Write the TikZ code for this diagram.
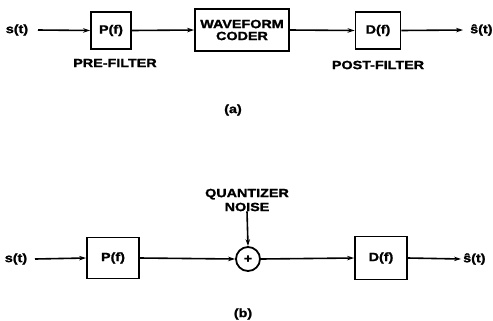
\documentclass[tikz,border=0pt]{standalone}
\usepackage{fontspec}
\setmainfont{Liberation Sans}
\newfontfamily\labfont[FakeStretch=1.2,FakeBold=1.5]{Liberation Sans Bold}
\usetikzlibrary{arrows.meta}
\begin{document}
\begin{tikzpicture}[x=1bp,y=-1bp,
  every node/.style={font=\labfont\fontsize{12}{13}\selectfont, inner sep=0pt},
  blockbox/.style={draw, line width=1.8bp, minimum width=#1, anchor=center},
  sig/.style={line width=1.6bp, -{Stealth[length=7bp,width=4.5bp]}},
  plain/.style={line width=1.6bp}]
\useasboundingbox (0,0) rectangle (493,320);
% ---- (a) ----
\node (sa) at (17,30) {s(t)};
\node[blockbox=40bp, minimum height=37bp] (pa) at (111,30.5) {P(f)};
\node[blockbox=94bp, minimum height=42bp, align=center] (wc) at (242,30) {WAVEFORM\\[-1pt]CODER};
\node[blockbox=45bp, minimum height=37bp] (da) at (378,30.5) {D(f)};
\node[anchor=west] (oa) at (470,30) {ŝ(t)};
\node (prea) at (115,63) {PRE-FILTER};
\node (posta) at (378,65) {POST-FILTER};
\node (capa) at (233,110) {(a)};
\coordinate (sae) at (38,30);
\coordinate (oae) at (463,30);
\draw[sig] (sae) -- (pa.west);
\draw[sig] (pa.east) -- (wc.west);
\draw[sig] (wc.east) -- (da.west);
\draw[sig] (da.east) -- (oae);
% ---- (b) ----
\node (sb) at (16,259) {s(t)};
\node[blockbox=52bp, minimum height=41bp] (pb) at (113,258) {P(f)};
\node[draw, circle, line width=1.8bp, minimum size=24bp] (sum) at (248,259) {};
\node at (sum) {+};
\node[blockbox=52bp, minimum height=43bp] (db) at (381,258) {D(f)};
\node[anchor=west] (ob) at (463,259) {ŝ(t)};
\node[align=center] (qn) at (247,200) {QUANTIZER\\[1pt]NOISE};
\node (capb) at (243,314) {(b)};
\coordinate (sbe) at (35,259);
\coordinate (obe) at (461,259);
\draw[sig] (sbe) -- (pb.west);
\draw[sig] (pb.east) -- (sum.west);
\draw[sig] (qn.south) -- (sum.north);
\draw[sig] (sum.east) -- (db.west);
\draw[sig] (db.east) -- (obe);
\end{tikzpicture}
\end{document}
